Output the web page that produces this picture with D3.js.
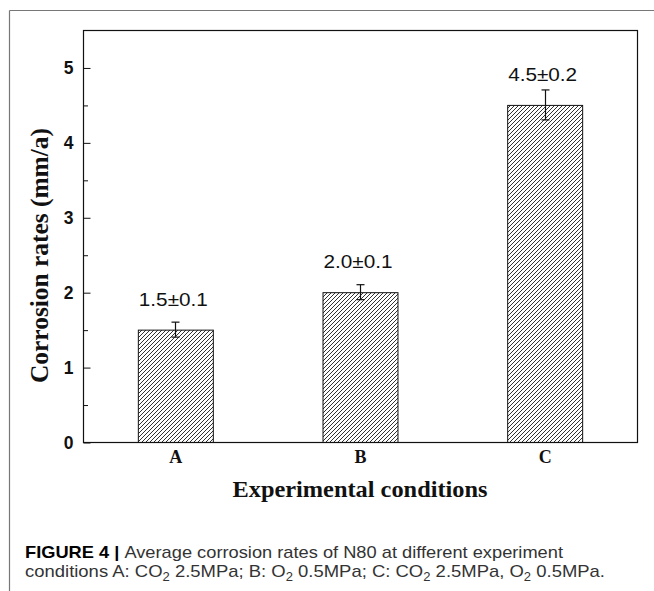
<!DOCTYPE html>
<html>
<head>
<meta charset="utf-8">
<script src="https://cdn.jsdelivr.net/npm/d3@7"></script>
<style>
  html, body { margin: 0; padding: 0; background: #fff; }
  svg { display: block; }
</style>
</head>
<body>
<svg id="chart" width="654" height="591"></svg>
<script>
// ---- data ----
const categories = ["A", "B", "C"];
const means = [1.5, 2.0, 4.5];
const errors = [0.1, 0.1, 0.2];
const valueLabels = ["1.5\u00b10.1", "2.0\u00b10.1", "4.5\u00b10.2"];
const majorTicks = [0, 1, 2, 3, 4, 5];
const minorTicks = [0.5, 1.5, 2.5, 3.5, 4.5];
const yTitle = "Corrosion rates (mm/a)";
const xTitle = "Experimental conditions";

(function () {
const svg = d3.select("#chart");
const W = 654, H = 591;
const pLeft = 83, pRight = 637, pTop = 30, pBottom = 442;

// outer figure frame (grey)
svg.append("line").attr("x1", 9.5).attr("y1", 10.5).attr("x2", W).attr("y2", 10.5)
  .attr("stroke", "#777").attr("stroke-width", 1.2);
svg.append("line").attr("x1", 9.5).attr("y1", 10.5).attr("x2", 9.5).attr("y2", H)
  .attr("stroke", "#777").attr("stroke-width", 1.2);

// hatch pattern
const defs = svg.append("defs");
const pat = defs.append("pattern").attr("id", "hatch")
  .attr("patternUnits", "userSpaceOnUse").attr("width", 4).attr("height", 4);
pat.append("path").attr("d", "M-1,1 l2,-2 M0,4 l4,-4 M3,5 l2,-2")
  .attr("stroke", "#333").attr("stroke-width", 1).attr("fill", "none");

const x = d3.scaleBand().domain(categories).range([pLeft, pRight])
  .paddingInner(0.594).paddingOuter(0.297);
const y = d3.scaleLinear().domain([0, 5.5]).range([pBottom, pTop]);

// bars
const data = categories.map((c, i) => ({ c, m: means[i], e: errors[i], lab: valueLabels[i] }));
svg.append("g").selectAll("rect").data(data).join("rect")
  .attr("x", d => x(d.c) + 0.5)
  .attr("y", d => y(d.m) + 0.5)
  .attr("width", x.bandwidth())
  .attr("height", d => y(0) - y(d.m))
  .attr("fill", "url(#hatch)")
  .attr("stroke", "#111").attr("stroke-width", 1);

// error bars
const eg = svg.append("g").attr("stroke", "#111").attr("stroke-width", 1.2);
data.forEach(d => {
  const cx = Math.round(x(d.c) + x.bandwidth() / 2) + 0.5;
  eg.append("line").attr("x1", cx).attr("x2", cx).attr("y1", y(d.m + d.e)).attr("y2", y(d.m - d.e));
  eg.append("line").attr("x1", cx - 4).attr("x2", cx + 4).attr("y1", y(d.m + d.e)).attr("y2", y(d.m + d.e));
  eg.append("line").attr("x1", cx - 4).attr("x2", cx + 4).attr("y1", y(d.m - d.e)).attr("y2", y(d.m - d.e));
});

// value labels
svg.append("g").selectAll("text").data(data).join("text")
  .attr("x", d => x(d.c) + x.bandwidth() / 2 - 2)
  .attr("y", d => y(d.m) - 24)
  .attr("text-anchor", "middle")
  .attr("font-family", "'Liberation Sans', Arial, sans-serif")
  .attr("font-size", 19)
  .attr("textLength", 69).attr("lengthAdjust", "spacingAndGlyphs")
  .attr("fill", "#111")
  .text(d => d.lab);

// plot frame
svg.append("rect").attr("x", pLeft + 0.5).attr("y", pTop + 0.5)
  .attr("width", pRight - pLeft).attr("height", pBottom - pTop)
  .attr("fill", "none").attr("stroke", "#111").attr("stroke-width", 1.2);

// y axis
const yAxis = d3.axisLeft(y).tickValues(majorTicks).tickFormat(d3.format("d"))
  .tickSizeInner(-7).tickSizeOuter(0).tickPadding(10);
const gy = svg.append("g").attr("transform", `translate(${pLeft + 0.5},0.5)`).call(yAxis);
gy.select(".domain").remove();
gy.selectAll("text").attr("font-family", "'Liberation Sans', Arial, sans-serif")
  .attr("font-weight", "bold").attr("font-size", 17.5).attr("fill", "#111");
gy.selectAll("line").attr("stroke", "#111");

const yMinor = d3.axisLeft(y).tickValues(minorTicks).tickFormat("")
  .tickSizeInner(-4.5).tickSizeOuter(0);
const gym = svg.append("g").attr("transform", `translate(${pLeft + 0.5},0.5)`).call(yMinor);
gym.select(".domain").remove();
gym.selectAll("line").attr("stroke", "#111");

// x axis
const xAxis = d3.axisBottom(x).tickSize(0).tickPadding(8);
const gx = svg.append("g").attr("transform", `translate(0.5,${pBottom + 0.5})`).call(xAxis);
gx.select(".domain").remove();
gx.selectAll("text").attr("font-family", "'Liberation Serif', 'Times New Roman', serif")
  .attr("font-weight", "bold").attr("font-size", 18).attr("fill", "#111");

// axis titles
svg.append("text")
  .attr("transform", "translate(48,255.5) rotate(-90)")
  .attr("text-anchor", "middle")
  .attr("font-family", "'Liberation Serif', 'Times New Roman', serif")
  .attr("font-weight", "bold").attr("font-size", 25)
  .attr("textLength", 255).attr("lengthAdjust", "spacingAndGlyphs")
  .attr("fill", "#111")
  .text(yTitle);

svg.append("text")
  .attr("x", 360).attr("y", 497)
  .attr("text-anchor", "middle")
  .attr("font-family", "'Liberation Serif', 'Times New Roman', serif")
  .attr("font-weight", "bold").attr("font-size", 24)
  .attr("textLength", 255).attr("lengthAdjust", "spacingAndGlyphs")
  .attr("fill", "#111")
  .text(xTitle);

// caption
const cap1 = svg.append("text").attr("x", 25).attr("y", 558)
  .attr("font-family", "'Liberation Sans', Arial, sans-serif").attr("font-size", 17)
  .attr("fill", "#333")
  .attr("textLength", 538).attr("lengthAdjust", "spacingAndGlyphs");
cap1.append("tspan").attr("font-weight", "bold").attr("fill", "#000").text("FIGURE 4 | ");
cap1.append("tspan").text("Average corrosion rates of N80 at different experiment");

const cap2 = svg.append("text").attr("x", 25).attr("y", 577)
  .attr("font-family", "'Liberation Sans', Arial, sans-serif").attr("font-size", 17)
  .attr("fill", "#333")
  .attr("textLength", 580).attr("lengthAdjust", "spacingAndGlyphs");
const parts = [
  ["conditions A: CO", false], ["2", true], [" 2.5MPa; B: O", false], ["2", true],
  [" 0.5MPa; C: CO", false], ["2", true], [" 2.5MPa, O", false], ["2", true], [" 0.5MPa.", false]
];
parts.forEach(([t, sub]) => {
  const ts = cap2.append("tspan").text(t);
  if (sub) ts.attr("font-size", 12).attr("dy", 4);
  else ts.attr("dy", t.startsWith("conditions") ? 0 : -4);
});
})();
</script>
</body>
</html>
